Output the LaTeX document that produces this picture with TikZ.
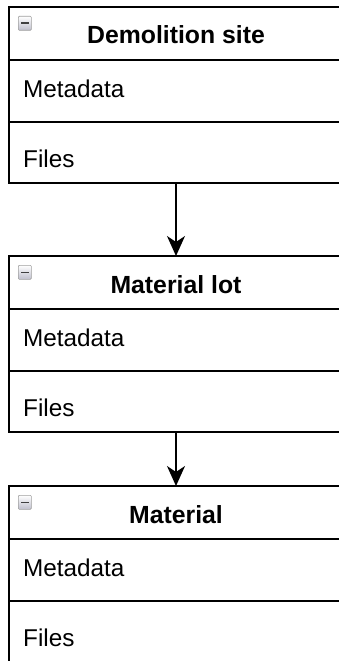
\documentclass[tikz,border=0pt]{standalone}
\usepackage{fontspec}
\setmainfont{Liberation Sans}
\usetikzlibrary{arrows.meta}
\begin{document}
\begin{tikzpicture}[x=1pt,y=1pt,
  box/.style={draw=black, line width=1.5pt, minimum width=334pt, minimum height=176pt, anchor=north west, inner sep=0pt, outer sep=0pt},
  divider/.style={draw=black, line width=1.5pt},
  title/.style={font=\fontsize{24.8}{30}\selectfont\bfseries, anchor=base, inner sep=0pt},
  field/.style={font=\fontsize{24.3}{29}\selectfont, anchor=base west, inner sep=0pt},
  iconbox/.style={draw=gray!75, line width=0.6pt, top color=white, bottom color=blue!12!gray!45, minimum width=13pt, minimum height=14pt, anchor=north west, inner sep=0pt, rounded corners=1pt},
  minusbar/.style={draw=black!75, line width=1.6pt},
  link/.style={draw=black, line width=1.5pt, -{Stealth[length=20pt,width=18pt,inset=6pt]}}
]
\useasboundingbox (0,0) rectangle (338,-661);
% Box 1
\node[box] (b1) at (9,-7) {};
\draw[divider] ([yshift=-53pt]b1.north west) -- ([yshift=-53pt]b1.north east);
\draw[divider] ([yshift=-115pt]b1.north west) -- ([yshift=-115pt]b1.north east);
\node[iconbox] (i1) at (18,-16) {};
\draw[minusbar] ([xshift=3pt]i1.west) -- ([xshift=-3pt]i1.east);
\node[title] (t1) at (176,-44) {Demolition site};
\node[field] (m1) at (23,-97) {Metadata};
\node[field] (f1) at (23,-167) {Files};
% Box 2
\node[box] (b2) at (9,-256) {};
\draw[divider] ([yshift=-53pt]b2.north west) -- ([yshift=-53pt]b2.north east);
\draw[divider] ([yshift=-115pt]b2.north west) -- ([yshift=-115pt]b2.north east);
\node[iconbox] (i2) at (18,-265) {};
\draw[minusbar] ([xshift=3pt]i2.west) -- ([xshift=-3pt]i2.east);
\node[title] (t2) at (176,-293) {Material lot};
\node[field] (m2) at (23,-346) {Metadata};
\node[field] (f2) at (23,-416) {Files};
% Box 3
\node[box] (b3) at (9,-486) {};
\draw[divider] ([yshift=-53pt]b3.north west) -- ([yshift=-53pt]b3.north east);
\draw[divider] ([yshift=-115pt]b3.north west) -- ([yshift=-115pt]b3.north east);
\node[iconbox] (i3) at (18,-495) {};
\draw[minusbar] ([xshift=3pt]i3.west) -- ([xshift=-3pt]i3.east);
\node[title] (t3) at (176,-523) {Material};
\node[field] (m3) at (23,-576) {Metadata};
\node[field] (f3) at (23,-646) {Files};
% Connectors
\draw[link] (b1.south) -- (b2.north);
\draw[link] (b2.south) -- (b3.north);
\end{tikzpicture}
\end{document}
